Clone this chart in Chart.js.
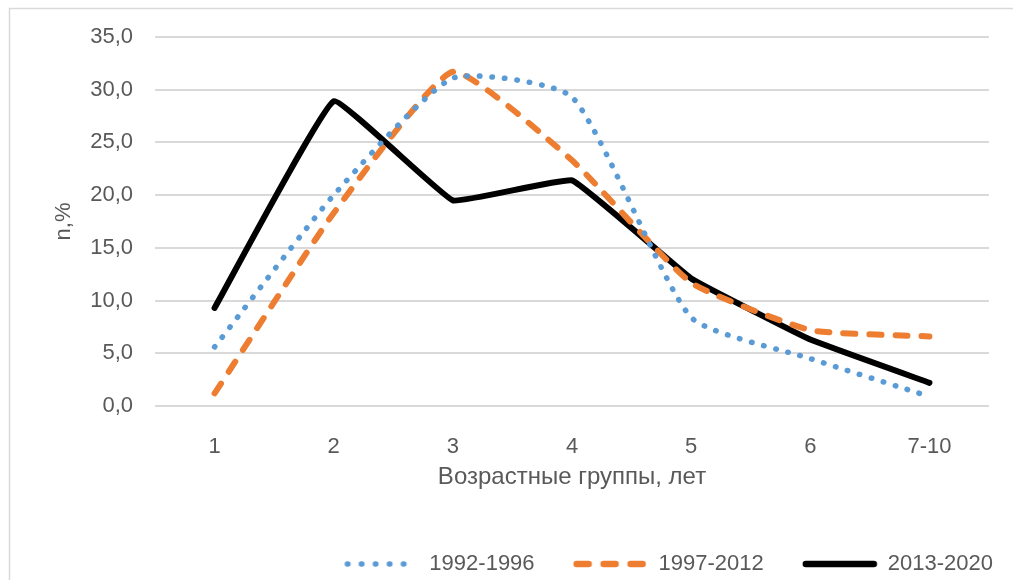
<!DOCTYPE html>
<html>
<head>
<meta charset="utf-8">
<script src="https://cdn.jsdelivr.net/npm/chart.js@4"></script>
<style>
  html, body { margin: 0; padding: 0; background: #fff; overflow: hidden; }
  #wrap { width: 1013px; height: 580px; position: relative; }
</style>
</head>
<body>
<div id="wrap"><canvas id="chart"></canvas></div>
<script>
// возрастные группы
const labels = ['1', '2', '3', '4', '5', '6', '7-10'];
const s1992 = [5.6, 20.0, 31.1, 29.3, 8.4, 4.5, 0.9];
const s1997 = [1.2, 18.3, 31.7, 23.3, 11.7, 7.2, 6.6];
const s2013 = [9.3, 28.9, 19.5, 21.4, 12.1, 6.3, 2.2];
const yTicks = [0, 5, 10, 15, 20, 25, 30, 35];

const textColor = '#595959';
const font = { family: "'Liberation Sans', Arial, sans-serif", size: 22 };

// значок для легенды (линия с тем же пунктиром)
function legendIcon(color, width, dash) {
  const cv = document.createElement('canvas');
  cv.width = 76; cv.height = 10;
  const c = cv.getContext('2d');
  c.strokeStyle = color;
  c.lineWidth = width;
  c.lineCap = 'round';
  c.setLineDash(dash);
  c.beginPath();
  c.moveTo(4, 5); c.lineTo(72, 5);
  c.stroke();
  return cv;
}

// рамка области диаграммы
const borderPlugin = {
  id: 'frame',
  beforeDraw(chart) {
    const c = chart.ctx;
    c.save();
    c.strokeStyle = '#d9d9d9';
    c.lineWidth = 1.5;
    c.strokeRect(9.5, 8.5, 1030, 600);
    c.restore();
  }
};

const ctx = document.getElementById('chart').getContext('2d');
new Chart(ctx, {
  type: 'line',
  data: {
    labels,
    datasets: [
      { label: '1992-1996', data: s1992, borderColor: '#5b9bd5', borderWidth: 5.5,
        borderDash: [0.5, 12], borderCapStyle: 'round', tension: 0.18,
        pointStyle: legendIcon('#5b9bd5', 5.5, [0.5, 13.5]) },
      { label: '1997-2012', data: s1997, borderColor: '#ed7d31', borderWidth: 6,
        borderDash: [12, 14], borderCapStyle: 'round', tension: 0.15,
        pointStyle: legendIcon('#ed7d31', 6.5, [12, 15]) },
      { label: '2013-2020', data: s2013, borderColor: '#000000', borderWidth: 6,
        borderCapStyle: 'round', borderJoinStyle: 'round', tension: 0.08,
        pointStyle: legendIcon('#000000', 6.5, []) }
    ]
  },
  options: {
    responsive: true,
    maintainAspectRatio: false,
    animation: false,
    elements: { point: { radius: 0, hoverRadius: 0 } },
    layout: { padding: { left: 0, right: -19, top: 37, bottom: -5 } },
    plugins: {
      tooltip: { enabled: false },
      legend: {
        position: 'bottom',
        align: 'end',
        labels: {
          usePointStyle: true,
          pointStyleWidth: 74,
          padding: 39,
          color: textColor,
          font
        }
      }
    },
    scales: {
      x: {
        offset: true,
        grid: { display: false },
        border: { display: false },
        ticks: { color: textColor, font, padding: 20 },
        title: { display: true, text: 'Возрастные группы, лет', color: textColor,
                 font: { ...font, size: 24 },
                 padding: { top: 0, bottom: 22 } },
        afterFit: s => { s.height = 108; }
      },
      y: {
        min: 0, max: 35,
        afterBuildTicks: s => { s.ticks = yTicks.map(v => ({ value: v })); },
        grid: { color: '#d9d9d9', lineWidth: 2, drawTicks: false },
        border: { display: false },
        ticks: { color: textColor, font, padding: 22,
                 callback: v => v.toFixed(1).replace('.', ',') },
        title: { display: true, text: 'n,%', color: textColor, font,
                 padding: { top: 51, bottom: 0 } },
        afterFit: s => { s.width = 155; }
      },
      yRight: {
        position: 'right',
        grid: { display: false },
        border: { display: false },
        ticks: { display: false },
        afterFit: s => { s.width = 43; }
      }
    }
  },
  plugins: [borderPlugin]
});
</script>
</body>
</html>
